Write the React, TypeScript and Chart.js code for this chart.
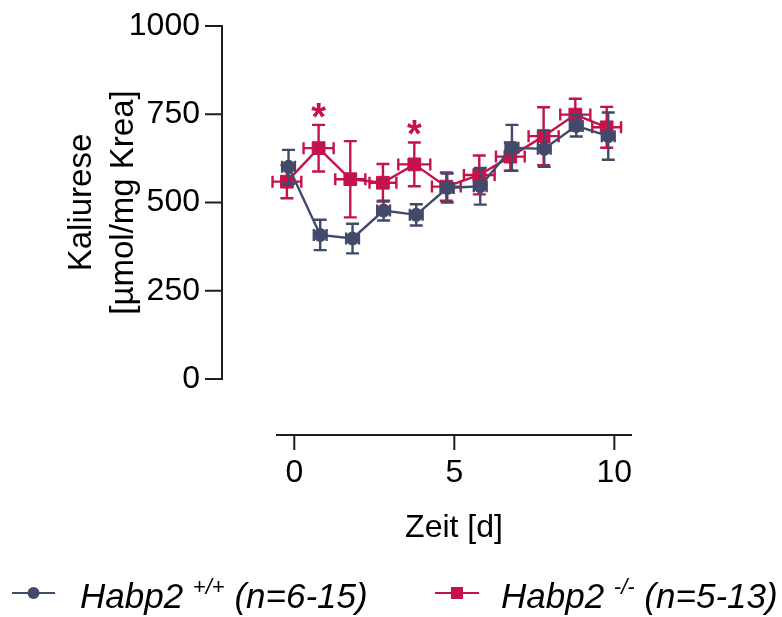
import { useEffect, useRef } from 'react';
import { Chart, registerables } from 'chart.js';

Chart.register(...registerables);

const FONT = "'Liberation Sans', Arial, Helvetica, sans-serif";
const AXIS_COLOR = '#1e1e1e';
const WT_COLOR = '#424a6b';
const KO_COLOR = '#c4124b';

// Time axis ticks and potassium axis ticks
const xTicks = [0, 5, 10];
const yTicks = [0, 250, 500, 750, 1000];

// Habp2 +/+ : mean day, mean kaliuresis and SEM in both directions
const wtDay = [-0.18, 0.81, 1.82, 2.79, 3.81, 4.78, 5.81, 6.8, 7.81, 8.81, 9.81];
const wtMean = [601, 408, 398, 477, 465, 541, 546, 655, 652, 717, 688];
const wtSem = [48, 43, 42, 28, 30, 41, 52, 65, 51, 30, 67];
const wtDaySem = [0.2, 0.2, 0.2, 0.2, 0.2, 0.2, 0.2, 0.2, 0.2, 0.2, 0.2];

// Habp2 -/- : mean day, mean kaliuresis and SEM in both directions
const koDay = [-0.23, 0.76, 1.75, 2.77, 3.75, 4.75, 5.78, 6.75, 7.79, 8.78, 9.76];
const koMean = [559, 654, 566, 556, 608, 545, 578, 630, 688, 749, 713];
const koSem = [47, 66, 108, 53, 62, 40, 55, 40, 82, 45, 58];
const koDaySem = [0.45, 0.47, 0.47, 0.42, 0.5, 0.45, 0.48, 0.45, 0.47, 0.47, 0.45];

// Time points with a significant genotype difference
const koSignificant = [1, 4];

const toPoints = (xs: number[], ys: number[]) => xs.map((x, i) => ({ x, y: ys[i] }));

// Draws x/y SEM bars with caps under each dataset's line and markers
const errorBarPlugin = {
  id: 'errorBars',
  beforeDatasetDraw(chart: any, args: any) {
    const ds: any = chart.data.datasets[args.index];
    const meta = args.meta;
    const xs = chart.scales.x;
    const ys = chart.scales.y;
    const ctx = chart.ctx;
    ctx.save();
    ctx.strokeStyle = ds.borderColor;
    ctx.lineWidth = 2.4;
    ctx.lineCap = 'butt';
    const cap = 6.5;
    const hcap = 6;
    ds.data.forEach((p: any, i: number) => {
      const el = meta.data[i];
      const px = el.x;
      const py = el.y;
      const yT = ys.getPixelForValue(p.y + ds.yErr[i]);
      const yB = ys.getPixelForValue(p.y - ds.yErr[i]);
      const xL = xs.getPixelForValue(p.x - ds.xErr[i]);
      const xR = xs.getPixelForValue(p.x + ds.xErr[i]);
      ctx.beginPath();
      ctx.moveTo(px, yT);
      ctx.lineTo(px, yB);
      ctx.moveTo(px - cap, yT);
      ctx.lineTo(px + cap, yT);
      ctx.moveTo(px - cap, yB);
      ctx.lineTo(px + cap, yB);
      ctx.moveTo(xL, py);
      ctx.lineTo(xR, py);
      ctx.moveTo(xL, py - hcap);
      ctx.lineTo(xL, py + hcap);
      ctx.moveTo(xR, py - hcap);
      ctx.lineTo(xR, py + hcap);
      ctx.stroke();
    });
    ctx.restore();
  },
};

// Offset (detached) axes with outward tick marks
const offsetAxesPlugin = {
  id: 'offsetAxes',
  afterDraw(chart: any) {
    const ctx = chart.ctx;
    const xs = chart.scales.x;
    const ys = chart.scales.y;
    const area = chart.chartArea;
    const yAxisX = area.left - 55;
    const xAxisY = area.bottom + 56;
    const tick = 16;
    ctx.save();
    ctx.strokeStyle = AXIS_COLOR;
    ctx.lineWidth = 2;
    ctx.lineCap = 'square';
    ctx.beginPath();
    const y0 = ys.getPixelForValue(yTicks[0]);
    const y1 = ys.getPixelForValue(yTicks[yTicks.length - 1]);
    ctx.moveTo(yAxisX, y0);
    ctx.lineTo(yAxisX, y1);
    yTicks.forEach((v) => {
      const py = ys.getPixelForValue(v);
      ctx.moveTo(yAxisX - tick, py);
      ctx.lineTo(yAxisX, py);
    });
    ctx.moveTo(area.left, xAxisY);
    ctx.lineTo(area.right, xAxisY);
    xTicks.forEach((v) => {
      const px = xs.getPixelForValue(v);
      ctx.moveTo(px, xAxisY);
      ctx.lineTo(px, xAxisY + tick - 2);
    });
    ctx.stroke();
    ctx.restore();
  },
};

// Significance stars above the knockout error bars
const starsPlugin = {
  id: 'stars',
  afterDatasetsDraw(chart: any) {
    const ctx = chart.ctx;
    const ys = chart.scales.y;
    const meta = chart.getDatasetMeta(1);
    ctx.save();
    ctx.fillStyle = KO_COLOR;
    ctx.font = `bold 38px ${FONT}`;
    ctx.textAlign = 'center';
    ctx.textBaseline = 'alphabetic';
    koSignificant.forEach((i) => {
      const px = meta.data[i].x;
      const top = ys.getPixelForValue(koMean[i] + koSem[i]);
      ctx.fillText('*', px, top - 17 + 0.57 * 38);
    });
    ctx.restore();
  },
};

// Legend row with superscript genotype labels
const legendPlugin = {
  id: 'genotypeLegend',
  afterDraw(chart: any) {
    const ctx = chart.ctx;
    const cy = 593;
    const base = 608;
    const items = [
      { color: WT_COLOR, shape: 'circle', x0: 12, x1: 55, tx: 80, name: 'Habp2', sup: '+/+', n: '(n=6-15)' },
      { color: KO_COLOR, shape: 'rect', x0: 435, x1: 479, tx: 501, name: 'Habp2', sup: '-/-', n: '(n=5-13)' },
    ];
    ctx.save();
    items.forEach((it) => {
      ctx.strokeStyle = it.color;
      ctx.fillStyle = it.color;
      ctx.lineWidth = 2;
      ctx.beginPath();
      ctx.moveTo(it.x0, cy);
      ctx.lineTo(it.x1, cy);
      ctx.stroke();
      const mx = (it.x0 + it.x1) / 2;
      ctx.beginPath();
      if (it.shape === 'circle') ctx.arc(mx, cy, 6, 0, Math.PI * 2);
      else ctx.rect(mx - 6, cy - 6, 12, 12);
      ctx.fill();
      ctx.fillStyle = '#000';
      ctx.textBaseline = 'alphabetic';
      ctx.textAlign = 'left';
      ctx.font = `italic 35px ${FONT}`;
      let x = it.tx;
      ctx.fillText(it.name, x, base);
      x += ctx.measureText(it.name + ' ').width;
      ctx.font = `italic 22px ${FONT}`;
      ctx.fillText(it.sup, x, base - 14);
      x += ctx.measureText(it.sup).width;
      ctx.font = `italic 35px ${FONT}`;
      x += ctx.measureText(' ').width;
      ctx.fillText(it.n, x, base);
    });
    ctx.restore();
  },
};

export default function App() {
  const canvasRef = useRef<HTMLCanvasElement | null>(null);

  useEffect(() => {
    if (!canvasRef.current) return;
    const chart = new Chart(canvasRef.current, {
      type: 'line',
      data: {
        datasets: [
          {
            label: 'Habp2 +/+ (n=6-15)',
            data: toPoints(wtDay, wtMean),
            xErr: wtDaySem,
            yErr: wtSem,
            borderColor: WT_COLOR,
            backgroundColor: WT_COLOR,
            borderWidth: 2.4,
            pointStyle: 'circle',
            pointRadius: 6.5,
            pointBorderWidth: 1,
            tension: 0,
          } as any,
          {
            label: 'Habp2 -/- (n=5-13)',
            data: toPoints(koDay, koMean),
            xErr: koDaySem,
            yErr: koSem,
            borderColor: KO_COLOR,
            backgroundColor: KO_COLOR,
            borderWidth: 2.4,
            pointStyle: 'rect',
            pointRadius: 9,
            pointBorderWidth: 1,
            tension: 0,
          } as any,
        ],
      },
      options: {
        animation: false,
        responsive: true,
        maintainAspectRatio: false,
        layout: { padding: { top: 26, right: 151, bottom: 0, left: 0 } },
        plugins: {
          legend: { display: false },
          tooltip: { enabled: false },
        },
        scales: {
          x: {
            type: 'linear',
            position: 'bottom',
            min: -0.54,
            max: 10.52,
            afterFit: (s: any) => {
              s.height = 238;
              s.paddingLeft = 0;
              s.paddingRight = 0;
            },
            afterBuildTicks: (s: any) => {
              s.ticks = xTicks.map((v) => ({ value: v }));
            },
            grid: { display: false, drawTicks: false },
            border: { display: false },
            ticks: {
              font: { family: FONT, size: 32 },
              color: '#000',
              padding: 75,
              maxRotation: 0,
              callback: (v: any) => String(v),
            },
            title: {
              display: true,
              text: 'Zeit [d]',
              color: '#000',
              font: { family: FONT, size: 32 },
              padding: { top: 0, bottom: 70 },
            },
          },
          y: {
            type: 'linear',
            position: 'left',
            min: 0,
            max: 1000,
            afterFit: (s: any) => {
              s.width = 277;
              s.paddingTop = 0;
              s.paddingBottom = 0;
            },
            afterBuildTicks: (s: any) => {
              s.ticks = yTicks.map((v) => ({ value: v }));
            },
            grid: { display: false, drawTicks: false },
            border: { display: false },
            ticks: {
              font: { family: FONT, size: 32 },
              color: '#000',
              padding: 77,
              callback: (v: any) => String(v),
            },
            title: {
              display: true,
              text: ['Kaliurese', '[µmol/mg Krea]'],
              color: '#000',
              font: { family: FONT, size: 33, lineHeight: 1.3 },
              padding: { top: 60, bottom: 0 },
            },
          },
        },
      },
      plugins: [errorBarPlugin, offsetAxesPlugin, starsPlugin, legendPlugin],
    } as any);
    return () => chart.destroy();
  }, []);

  return (
    <div style={{ position: 'absolute', left: 0, top: 0, width: 782, height: 617, background: '#fff' }}>
      <canvas ref={canvasRef} />
    </div>
  );
}
